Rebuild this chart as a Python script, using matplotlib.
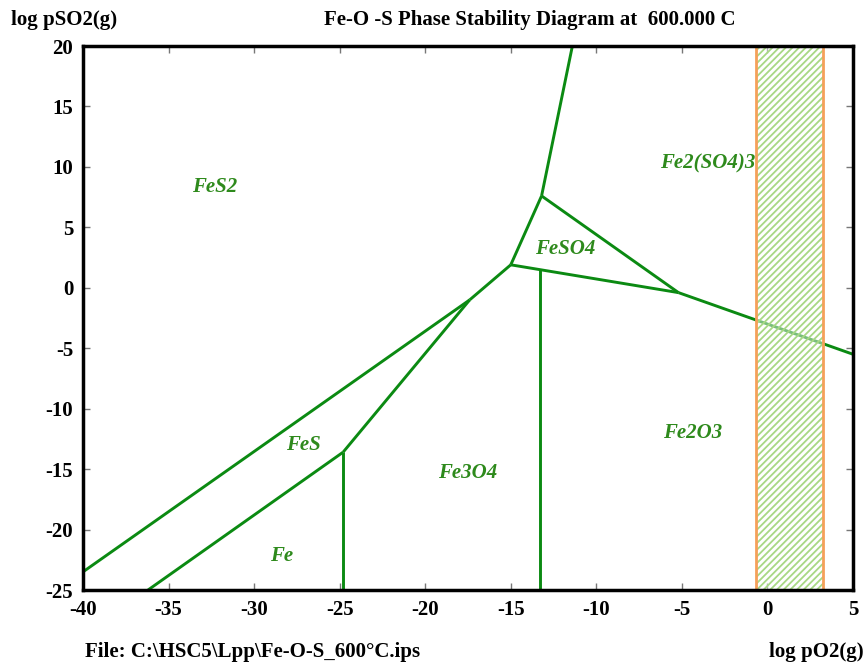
import matplotlib
matplotlib.use("Agg")
import matplotlib.pyplot as plt
from matplotlib.patches import Rectangle

plt.rcParams['font.family'] = ['Liberation Serif', 'DejaVu Serif']
plt.rcParams['hatch.linewidth'] = 1.3

# Axis ranges and tick labels
x_ticks = [-40, -35, -30, -25, -20, -15, -10, -5, 0, 5]
y_ticks = [-25, -20, -15, -10, -5, 0, 5, 10, 15, 20]

# Phase boundaries (log pO2, log pSO2)
fes2_fes_x = [-40.0, -17.4]
fes2_fes_y = [-23.5, -1.0]
fes2_fe3o4_x = [-17.4, -15.0]
fes2_fe3o4_y = [-1.0, 1.9]
fe_fes_x = [-36.2, -24.8]
fe_fes_y = [-25.0, -13.6]
fes_fe3o4_x = [-24.8, -17.4]
fes_fe3o4_y = [-13.6, -1.0]
fe_fe3o4_x = [-24.8, -24.8]
fe_fe3o4_y = [-25.0, -13.6]
fe3o4_fe2o3_x = [-13.3, -13.3]
fe3o4_fe2o3_y = [-25.0, 1.55]
feso4_oxides_x = [-15.0, -5.2]
feso4_oxides_y = [1.9, -0.4]
fe2so43_fe2o3_x = [-5.2, 5.0]
fe2so43_fe2o3_y = [-0.4, -5.5]
feso4_fe2so43_x = [-5.2, -13.2]
feso4_fe2so43_y = [-0.4, 7.6]
fes2_feso4_x = [-15.0, -13.2]
fes2_feso4_y = [1.9, 7.6]
fes2_fe2so43_x = [-13.2, -11.4]
fes2_fe2so43_y = [7.6, 20.0]

# Phase field labels
phase_names = ['FeS2', 'Fe2(SO4)3', 'FeSO4', 'FeS', 'Fe3O4', 'Fe2O3', 'Fe']
phase_x = [-32.3, -3.5, -11.8, -27.1, -17.5, -4.35, -28.4]
phase_y = [8.3, 10.3, 3.2, -13.0, -15.3, -12.0, -22.2]

# Highlighted log pO2 band
band_x = [-0.65, 3.25]

fig = plt.figure(figsize=(8.66, 6.64), dpi=100)
ax = fig.add_axes([83 / 866, 1 - 590 / 664, 770 / 866, 544 / 664])
ax.set_xlim(-40, 5)
ax.set_ylim(-25, 20)

line_color = '#0b8a12'
segments = [
    (fes2_fes_x, fes2_fes_y), (fes2_fe3o4_x, fes2_fe3o4_y),
    (fe_fes_x, fe_fes_y), (fes_fe3o4_x, fes_fe3o4_y),
    (fe_fe3o4_x, fe_fe3o4_y), (fe3o4_fe2o3_x, fe3o4_fe2o3_y),
    (feso4_oxides_x, feso4_oxides_y), (fe2so43_fe2o3_x, fe2so43_fe2o3_y),
    (feso4_fe2so43_x, feso4_fe2so43_y), (fes2_feso4_x, fes2_feso4_y),
    (fes2_fe2so43_x, fes2_fe2so43_y),
]
for sx, sy in segments:
    ax.plot(sx, sy, color=line_color, linewidth=2.1, solid_capstyle='butt',
            zorder=3, clip_on=True)

# translucent hatched band laid over the boundary lines, then its orange outline
ax.add_patch(Rectangle((band_x[0], -25), band_x[1] - band_x[0], 45,
                       facecolor=(1, 1, 1, 0.45), edgecolor='#a8d884',
                       hatch='/////', linewidth=0, zorder=3.5))
ax.add_patch(Rectangle((band_x[0], -25), band_x[1] - band_x[0], 45,
                       facecolor='none', edgecolor='#f5a05a',
                       linewidth=2.0, zorder=3.6))

for name, px, py in zip(phase_names, phase_x, phase_y):
    ax.text(px, py, name, ha='center', va='center', fontsize=15,
            fontstyle='italic', fontweight='bold', color='#2e8a1c', zorder=4)

ax.set_xticks(x_ticks)
ax.set_yticks(y_ticks)
ax.set_xticklabels([str(v) for v in x_ticks], fontsize=15, fontweight='bold')
ax.set_yticklabels([str(v) for v in y_ticks], fontsize=15, fontweight='bold')
ax.tick_params(direction='in', length=5, width=1, color='#777777',
               top=True, right=True, pad=7)
for spine in ax.spines.values():
    spine.set_linewidth(2.5)
    spine.set_color('black')
    spine.set_zorder(5)

fig.text(11 / 866, 1 - 20 / 664, 'log pSO2(g)', fontsize=15, fontweight='bold',
         ha='left', va='center')
fig.text(530 / 866, 1 - 20 / 664, 'Fe-O -S Phase Stability Diagram at  600.000 C',
         fontsize=15, fontweight='bold', ha='center', va='center')
fig.text(85 / 866, 1 - 652 / 664, 'File: C:\\HSC5\\Lpp\\Fe-O-S_600°C.ips',
         fontsize=15, fontweight='bold', ha='left', va='center')
fig.text(864 / 866, 1 - 652 / 664, 'log pO2(g)', fontsize=15, fontweight='bold',
         ha='right', va='center')

fig.savefig('out.png', dpi=100, facecolor='white')
